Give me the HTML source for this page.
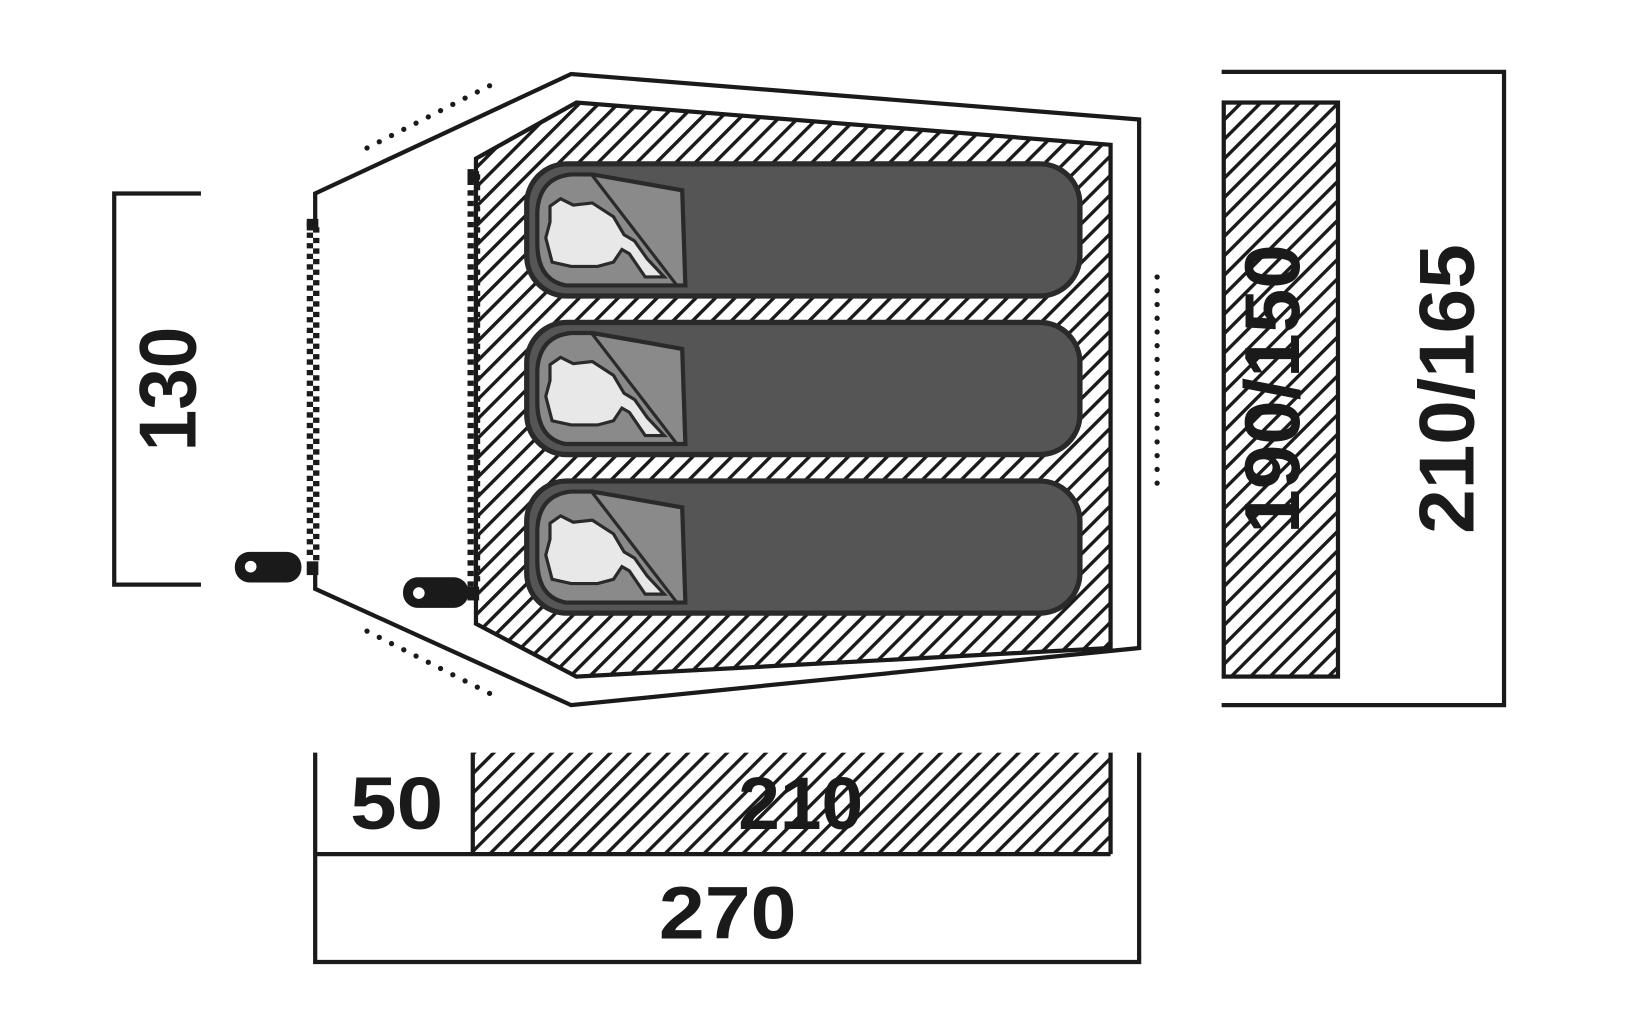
<!DOCTYPE html>
<html><head><meta charset="utf-8"><style>
html,body{margin:0;padding:0;background:#fff;}
svg{display:block;}
text{font-family:"Liberation Sans",sans-serif;font-weight:bold;fill:#1a1a1a;}
</style></head><body>
<svg width="1650" height="1036" viewBox="0 0 1560 980" preserveAspectRatio="none" xmlns="http://www.w3.org/2000/svg">
<defs>
<pattern id="h" patternUnits="userSpaceOnUse" width="13" height="13" patternTransform="rotate(45)">
<rect width="13" height="13" fill="#fff"/>
<rect x="0" y="0" width="3.2" height="13" fill="#1a1a1a"/>
</pattern>
</defs>
<polyline points="298,210 298,183 540,70 1077,113 1077,613 540,667 298,557 298,540" fill="none" stroke="#1a1a1a" stroke-width="4"/>
<polygon points="450,150 545,97 1050,137 1050,613 545,640 450,590" fill="url(#h)" stroke="#1a1a1a" stroke-width="4"/>
<g stroke="#1a1a1a" stroke-width="6" fill="none">
<line x1="293" y1="210" x2="293" y2="530" stroke-dasharray="5,5"/>
<line x1="299" y1="215" x2="299" y2="530" stroke-dasharray="5,5"/>
<line x1="445" y1="160" x2="445" y2="555" stroke-dasharray="5,5"/>
<line x1="451" y1="165" x2="451" y2="555" stroke-dasharray="5,5"/>
</g>
<rect x="290" y="207" width="11" height="11" fill="#1a1a1a"/>
<rect x="290" y="531" width="11" height="13" fill="#1a1a1a"/>
<rect x="442" y="162" width="11" height="11" fill="#1a1a1a"/>
<rect x="442" y="555" width="11" height="13" fill="#1a1a1a"/>
<rect x="222" y="522" width="63" height="29" rx="14" fill="#1a1a1a"/>
<circle cx="237" cy="536" r="5.5" fill="#fff"/>
<rect x="381" y="546" width="62" height="29" rx="14" fill="#1a1a1a"/>
<circle cx="396" cy="561" r="5.5" fill="#fff"/>
<g stroke="#1a1a1a" stroke-width="5" stroke-linecap="round" stroke-dasharray="0,13">
<line x1="347" y1="140" x2="465" y2="80"/>
<line x1="347" y1="597" x2="465" y2="657"/>
<line x1="1094" y1="262" x2="1094" y2="465"/>
</g>
<g>
<g id="bag">
<rect x="498" y="155" width="523" height="125" rx="38" fill="#555" stroke="#2a2a2a" stroke-width="5"/>
<path d="M540,165 L560,165 L645,180 L648,270 L535,270 Q508,265 508,230 L508,200 Q510,168 540,165 Z" fill="#8a8a8a" stroke="#2a2a2a" stroke-width="4"/>
<line x1="560" y1="166" x2="640" y2="270" stroke="#2a2a2a" stroke-width="3"/>
<path d="M520,195 L530,188 L542,194 L560,192 L580,205 L590,222 L600,228 L612,245 L628,262 L610,262 L595,240 L588,236 L580,248 L565,252 L540,252 L522,248 L516,225 L520,210 Z" fill="#e8e8e8" stroke="#2a2a2a" stroke-width="3"/>
</g>
<use href="#bag" y="150"/>
<use href="#bag" y="300"/>
</g>
<polyline points="190,183 108,183 108,553 190,553" fill="none" stroke="#1a1a1a" stroke-width="4"/>
<text transform="translate(185,368) rotate(-90)" text-anchor="middle" font-size="76" textLength="118" lengthAdjust="spacingAndGlyphs">130</text>
<rect x="1157" y="97" width="108" height="543" fill="url(#h)" stroke="#1a1a1a" stroke-width="4"/>
<polyline points="1155,68 1422,68 1422,667 1155,667" fill="none" stroke="#1a1a1a" stroke-width="4"/>
<text transform="translate(1228,368) rotate(-90)" text-anchor="middle" font-size="74" textLength="274" lengthAdjust="spacingAndGlyphs">190/150</text>
<text transform="translate(1393,368) rotate(-90)" text-anchor="middle" font-size="74" textLength="274" lengthAdjust="spacingAndGlyphs">210/165</text>
<rect x="447" y="712" width="603" height="96" fill="url(#h)"/>
<line x1="447" y1="712" x2="447" y2="808" stroke="#1a1a1a" stroke-width="4"/>
<line x1="1050" y1="712" x2="1050" y2="808" stroke="#1a1a1a" stroke-width="4"/>
<polyline points="298,712 298,910 1077,910 1077,712" fill="none" stroke="#1a1a1a" stroke-width="4"/>
<line x1="298" y1="808" x2="1050" y2="808" stroke="#1a1a1a" stroke-width="4"/>
<text x="375" y="784" text-anchor="middle" font-size="70" textLength="88" lengthAdjust="spacingAndGlyphs">50</text>
<text x="757" y="784" text-anchor="middle" font-size="70" textLength="118" lengthAdjust="spacingAndGlyphs">210</text>
<text x="688" y="888" text-anchor="middle" font-size="70" textLength="130" lengthAdjust="spacingAndGlyphs">270</text>
</svg>
</body></html>
